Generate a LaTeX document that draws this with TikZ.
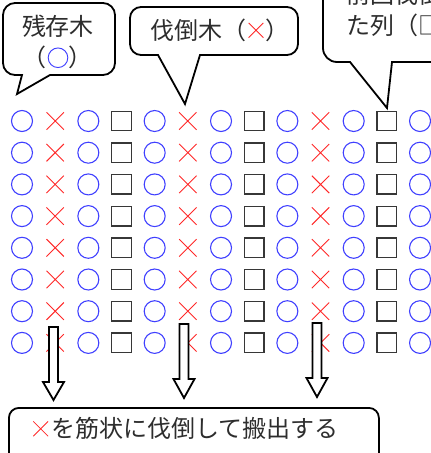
\documentclass[tikz,border=0pt]{standalone}
\usepackage{fontspec}
\newfontfamily\jp{Noto Sans CJK JP}
\usetikzlibrary{shapes.misc}
\definecolor{treeblue}{RGB}{64,64,255}
\definecolor{cutred}{RGB}{255,40,40}
\definecolor{sqgray}{RGB}{55,55,55}
\definecolor{txtgray}{RGB}{45,45,45}
\newcommand\BlkArrow[5]{%
  \coordinate (#1-top) at (#2,#3);
  \coordinate (#1-tip) at (#2,#5);
  \draw[blockarrow] (#2-4.5,#3) -- (#2-4.5,#4) -- (#2-10.5,#4) -- (#1-tip)
    -- (#2+10.5,#4) -- (#2+4.5,#4) -- (#2+4.5,#3) -- cycle;}
\newcommand\InCirc{\makebox[22pt]{\tikz[baseline=-8.8pt]{\draw[treeblue,line width=0.95pt] (0pt,0pt) circle[radius=9.8pt];}}}
\newcommand\InCross[1]{\makebox[#1]{\tikz[baseline=-8.8pt]{\draw[cutred,line width=0.85pt] (-7.4pt,-7.4pt) -- (7.4pt,7.4pt) (-7.4pt,7.4pt) -- (7.4pt,-7.4pt);}}}
\begin{document}
\begin{tikzpicture}[x=1pt,y=-1pt,
  osym/.style={circle,draw=treeblue,line width=1.1pt,minimum size=21pt,inner sep=0pt},
  xsym/.style={cross out,draw=cutred,line width=0.9pt,minimum size=16.5pt,inner sep=0pt},
  ssym/.style={rectangle,draw=sqgray,line width=1.4pt,minimum size=19.5pt,inner sep=0pt},
  blockarrow/.style={draw=black,fill=white,line width=1.8pt,line join=miter},
  callout/.style={draw=black,fill=white,line width=1.8pt,line join=miter},
  jtext/.style={font=\jp\fontsize{24}{31}\selectfont,text=txtgray,inner sep=0pt}]
\useasboundingbox (0,0) rectangle (431,453);
\clip (0,0) rectangle (431,453);
% grid of trees
\foreach \r in {0,...,7}{
  \foreach \c in {0,...,12}{
    \pgfmathsetmacro\gx{22+33.17*\c}
    \pgfmathsetmacro\gy{121+31.7*\r}
    \pgfmathtruncatemacro\m{mod(\c,4)}
    \ifnum\m=1
      \node[xsym] (g-\r-\c) at (\gx,\gy) {};
    \else\ifnum\m=3
      \node[ssym] (g-\r-\c) at (\gx,\gy) {};
    \else
      \node[osym] (g-\r-\c) at (\gx,\gy) {};
    \fi\fi
  }
}
% block arrows
\BlkArrow{a1}{53.5}{327}{382}{400}
\BlkArrow{a2}{184}{324}{379}{398}
\BlkArrow{a3}{317}{323}{378}{397}
% callout 1
\draw[callout] (50,75) -- (103,75) arc[start angle=90,end angle=0,radius=12]
  -- (115,15) arc[start angle=0,end angle=-90,radius=12]
  -- (15,3) arc[start angle=270,end angle=180,radius=12]
  -- (3,63) arc[start angle=180,end angle=90,radius=12]
  -- (22,75) -- (17,94) -- cycle;
\node[jtext,align=center] (c1) at (58,42) {残存木\\（\InCirc）};
% callout 2
\draw[callout] (200,55) -- (287,55) arc[start angle=90,end angle=0,radius=11]
  -- (298,18) arc[start angle=0,end angle=-90,radius=11]
  -- (141,7) arc[start angle=270,end angle=180,radius=11]
  -- (130,44) arc[start angle=180,end angle=90,radius=11]
  -- (158,55) -- (185,104) -- cycle;
\node[jtext] (c2) at (220,30) {伐倒木（\InCross{19pt}）};
% callout 3
\draw[callout] (392,62) -- (460,62) -- (460,-30) -- (323,-30)
  -- (323,48) arc[start angle=180,end angle=90,radius=14]
  -- (350,62) -- (387,108) -- cycle;
\node[jtext,align=left,anchor=west] (c3) at (346,10) {前回伐倒し\\た列（□）};
% bottom box
\node[draw=black,line width=1.8pt,rounded corners=10pt,minimum width=370pt,
  minimum height=70pt,anchor=north west,inner sep=0pt] (box) at (8,407) {};
\node[jtext,anchor=west] (boxtext) at (30,428.5) {\InCross{21pt}を筋状に伐倒して搬出する};
\end{tikzpicture}
\end{document}
